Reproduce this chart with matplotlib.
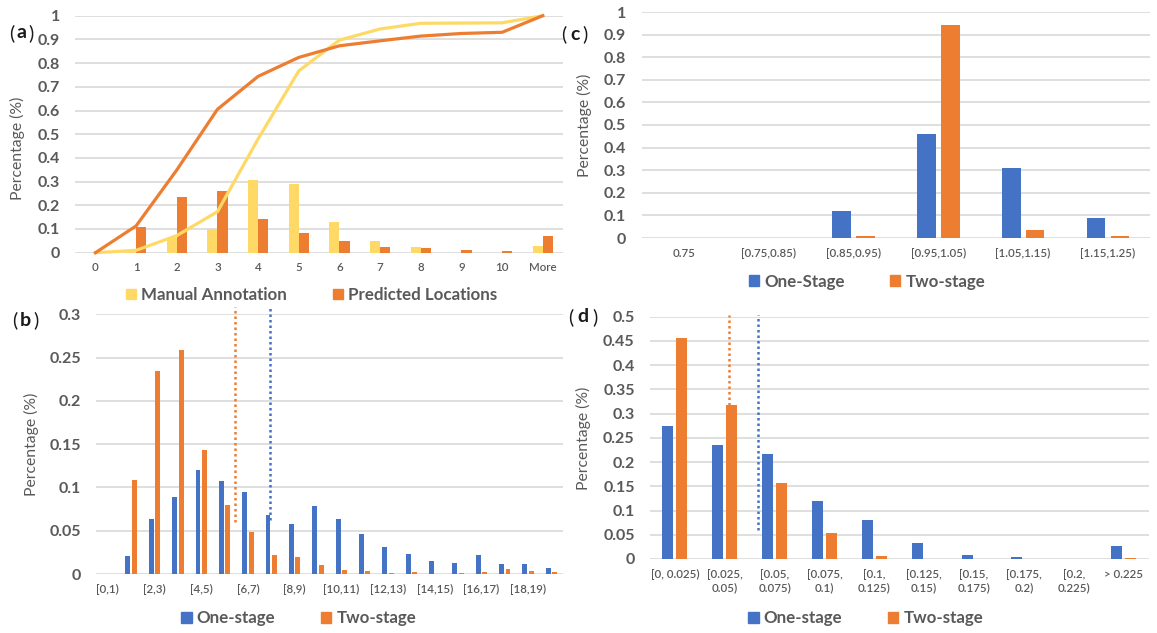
import numpy as np
import matplotlib.pyplot as plt
from matplotlib import font_manager
from matplotlib.patches import Patch
from matplotlib.ticker import FuncFormatter

# pick a Calibri-like family that really has a bold face
FAM = 'Lato'
for fam in ['Lato', 'Open Sans', 'Noto Sans', 'Liberation Sans']:
    f = font_manager.findfont(font_manager.FontProperties(family=fam, weight='bold'),
                              fallback_to_default=False)
    if 'bold' in f.lower() and fam.split()[0].lower() in f.lower():
        FAM = fam
        break
plt.rcParams['font.family'] = [FAM, 'DejaVu Sans']

BLUE = '#4472C4'
ORANGE = '#ED7D31'
YELLOW = '#FFD966'
GRID = '#D9D9D9'
TXT = '#595959'

# (a) distance histogram + cumulative
a_cats = ['0', '1', '2', '3', '4', '5', '6', '7', '8', '9', '10', 'More']
a_manual = [0, 0.01, 0.062, 0.10, 0.305, 0.29, 0.131, 0.049, 0.024, 0, 0, 0.03]
a_pred = [0, 0.11, 0.233, 0.259, 0.142, 0.082, 0.048, 0.024, 0.02, 0.011, 0.006, 0.07]
a_manual_cum = [0, 0.01, 0.072, 0.173, 0.48, 0.767, 0.897, 0.944, 0.968, 0.969, 0.970, 1.0]
a_pred_cum = [0, 0.113, 0.349, 0.605, 0.744, 0.824, 0.873, 0.894, 0.914, 0.925, 0.93, 1.0]

# (b)
b_cats = ['[%d,%d)' % (i, i + 1) for i in range(20)]
b_one = [0, 0.021, 0.064, 0.089, 0.120, 0.107, 0.095, 0.068, 0.058, 0.078,
         0.064, 0.046, 0.031, 0.023, 0.015, 0.013, 0.022, 0.012, 0.011, 0.007]
b_two = [0, 0.109, 0.234, 0.259, 0.143, 0.080, 0.048, 0.022, 0.020, 0.010,
         0.005, 0.003, 0.0015, 0.002, 0.0005, 0.0015, 0.002, 0.006, 0.003, 0.002]
b_mean_one = 6.95
b_mean_two = 5.46

# (c)
c_cats = ['0.75', '[0.75,0.85)', '[0.85,0.95)', '[0.95,1.05)', '[1.05,1.15)', '[1.15,1.25)']
c_one = [0, 0, 0.119, 0.46, 0.308, 0.09]
c_two = [0, 0, 0.01, 0.941, 0.037, 0.009]

# (d)
d_cats = ['[0, 0.025)', '[0.025,\n0.05)', '[0.05,\n0.075)', '[0.075,\n0.1)', '[0.1,\n0.125)',
          '[0.125,\n0.15)', '[0.15,\n0.175)', '[0.175,\n0.2)', '[0.2,\n0.225)', '> 0.225']
d_one = [0.275, 0.2345, 0.216, 0.119, 0.080, 0.032, 0.0076, 0.004, 0, 0.027]
d_two = [0.457, 0.318, 0.157, 0.054, 0.006, 0.001, 0, 0.001, 0, 0.002]
d_mean_one = 1.66
d_mean_two = 1.085

W, H = 1157, 633
fig = plt.figure(figsize=(W / 100, H / 100), dpi=100)


def box(x0, y0, x1, y1):
    return [x0 / W, 1 - y1 / H, (x1 - x0) / W, (y1 - y0) / H]


def style(ax, cats, ymax, ystep, xfs=8.3):
    ax.set_xlim(-0.5, len(cats) - 0.5)
    ax.set_ylim(0, ymax)
    ax.set_yticks(np.arange(0, ymax + ystep / 2, ystep))
    ax.yaxis.set_major_formatter(FuncFormatter(lambda v, p: '%g' % round(v, 3)))
    ax.set_xticks(np.arange(len(cats)))
    ax.set_xticklabels(cats)
    for s in ax.spines.values():
        s.set_visible(False)
    ax.yaxis.grid(True, color=GRID, lw=1.2)
    ax.set_axisbelow(True)
    ax.tick_params(axis='y', length=0, pad=11, labelsize=11.5, labelcolor=TXT)
    ax.tick_params(axis='x', length=0, pad=7, labelsize=xfs, labelcolor=TXT)
    for t in ax.get_yticklabels():
        t.set_fontweight('bold')
    for t in ax.get_xticklabels():
        t.set_fontweight('semibold')
    ax.set_ylabel('Percentage (%)', fontsize=11.3, color=TXT)


def legend(handles, labels, cx, cy):
    fig.legend(handles, labels, loc='center', bbox_to_anchor=(cx / W, 1 - cy / H),
               ncol=2, frameon=False, handlelength=0.6, handleheight=0.6,
               handletextpad=0.3, columnspacing=2.7,
               prop={'size': 12.2, 'weight': 'bold'}, labelcolor=TXT)


# ---- (a)
ax = fig.add_axes(box(75.1, 15.7, 563.1, 252.7))
x = np.arange(len(a_cats))
ax.bar(x - 0.125, a_manual, 0.25, color=YELLOW)
ax.bar(x + 0.125, a_pred, 0.25, color=ORANGE)
ax.plot(x, a_manual_cum, color=YELLOW, lw=2.3, clip_on=False, zorder=3)
ax.plot(x, a_pred_cum, color=ORANGE, lw=2.3, clip_on=False, zorder=3)
style(ax, a_cats, 1.0, 0.1)
ax.yaxis.set_label_coords(-0.103, 0.44)
legend([Patch(color=YELLOW), Patch(color=ORANGE)],
       ['Manual Annotation', 'Predicted Locations'], 311.6, 295)

# ---- (b)
ax = fig.add_axes(box(96.2, 314.3, 563.1, 574))
x = np.arange(len(b_cats))
ax.bar(x - 0.14, b_one, 0.21, color=BLUE)
ax.bar(x + 0.14, b_two, 0.21, color=ORANGE)
ax.plot([b_mean_two] * 2, [0.06, 0.308], color=ORANGE, lw=1.8, ls=(0, (1, 1.2)), clip_on=False)
ax.plot([b_mean_one] * 2, [0.062, 0.308], color=BLUE, lw=1.8, ls=(0, (1, 1.2)), clip_on=False)
style(ax, b_cats, 0.3, 0.05)
ax.set_xticklabels([c if i % 2 == 0 else '' for i, c in enumerate(b_cats)])
ax.yaxis.set_label_coords(-0.123, 0.5)
legend([Patch(color=BLUE), Patch(color=ORANGE)], ['One-stage', 'Two-stage'], 298.7, 618.3)

# ---- (c)
ax = fig.add_axes(box(641.5, 12, 1150.4, 238))
x = np.arange(len(c_cats))
ax.bar(x - 0.14, c_one, 0.22, color=BLUE)
ax.bar(x + 0.14, c_two, 0.22, color=ORANGE)
style(ax, c_cats, 1.0, 0.1)
ax.yaxis.set_label_coords(-0.098, 0.5)
legend([Patch(color=BLUE), Patch(color=ORANGE)], ['One-Stage', 'Two-stage'], 867, 281.7)

# ---- (d)
ax = fig.add_axes(box(650, 316.7, 1148.5, 559))
x = np.arange(len(d_cats))
ax.bar(x - 0.14, d_one, 0.22, color=BLUE)
ax.bar(x + 0.14, d_two, 0.22, color=ORANGE)
ax.plot([d_mean_two] * 2, [0.318, 0.503], color=ORANGE, lw=1.8, ls=(0, (1, 1.2)), clip_on=False)
ax.plot([d_mean_one] * 2, [0.06, 0.503], color=BLUE, lw=1.8, ls=(0, (1, 1.2)), clip_on=False)
style(ax, d_cats, 0.5, 0.05)
for t in ax.get_xticklabels():
    t.set_linespacing(1.25)
ax.yaxis.set_label_coords(-0.118, 0.5)
legend([Patch(color=BLUE), Patch(color=ORANGE)], ['One-stage', 'Two-stage'], 865.7, 618.3)

# panel letters: thin brackets, bold letter
for lab, lp, cx, rp, py in [('a', 12, 21, 31, 33), ('b', 14.5, 25, 35.5, 320),
                            ('c', 564, 575, 585, 34), ('d', 571, 582.5, 595, 317)]:
    for s, px, wt in [('(', lp, 'normal'), (lab, cx, 'bold'), (')', rp, 'normal')]:
        fig.text(px / W, 1 - py / H, s, fontsize=14, fontweight=wt,
                 color='#1a1a1a', ha='center', va='center')

fig.savefig('out.png', dpi=100)
